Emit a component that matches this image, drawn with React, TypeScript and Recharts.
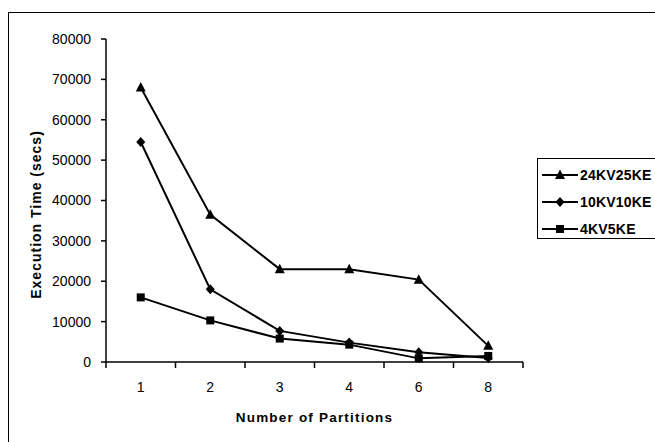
import React from "react";
import { LineChart, Line, XAxis, YAxis, Legend } from "recharts";

const partitions = ["1", "2", "3", "4", "6", "8"];
const kv24ke25 = [68000, 36500, 23000, 23000, 20400, 4000];
const kv10ke10 = [54500, 18000, 7700, 4800, 2400, 1000];
const kv4ke5 = [16000, 10300, 5800, 4300, 900, 1500];
const yTicks = [0, 10000, 20000, 30000, 40000, 50000, 60000, 70000, 80000];

const seriesNames = ["24KV25KE", "10KV10KE", "4KV5KE"];
const markers = ["triangle", "diamond", "square"];

const data = partitions.map((p, i) => ({
  partitions: p,
  "24KV25KE": kv24ke25[i],
  "10KV10KE": kv10ke10[i],
  "4KV5KE": kv4ke5[i],
}));

const FONT = "'Liberation Sans', Arial, sans-serif";

function Marker({ kind, cx, cy }: { kind: string; cx: number; cy: number }) {
  if (kind === "triangle") {
    return <path d={`M${cx},${cy - 5.5} L${cx + 5},${cy + 4} L${cx - 5},${cy + 4} Z`} fill="#000" />;
  }
  if (kind === "diamond") {
    return <path d={`M${cx},${cy - 5} L${cx + 4.5},${cy} L${cx},${cy + 5} L${cx - 4.5},${cy} Z`} fill="#000" />;
  }
  return <rect x={cx - 4} y={cy - 4} width={8} height={8} fill="#000" />;
}

const makeDot = (kind: string) => (props: any) => {
  const { cx, cy, index } = props;
  if (cx == null || cy == null) return <g key={`d-${kind}-${index}`} />;
  return (
    <g key={`d-${kind}-${index}`}>
      <Marker kind={kind} cx={cx} cy={cy} />
    </g>
  );
};

// ticks sit between the categories, like the old spreadsheet style
const XTick = (props: any) => {
  const { x, y, payload, index, visibleTicksCount } = props;
  const half = payload.offset || 0;
  const axisY = y - 6;
  const left = payload.coordinate - half;
  const right = payload.coordinate + half;
  return (
    <g>
      <line x1={left} y1={axisY} x2={left} y2={axisY + 6} stroke="#000" strokeWidth={1.5} />
      {index === visibleTicksCount - 1 && (
        <line x1={right} y1={axisY} x2={right} y2={axisY + 6} stroke="#000" strokeWidth={1.5} />
      )}
      <text x={x} y={axisY + 30} textAnchor="middle" fontFamily={FONT} fontSize={14} fill="#000">
        {payload.value}
      </text>
    </g>
  );
};

const LegendBox = () => (
  <div
    style={{
      width: 125,
      height: 81,
      border: "1px solid #000",
      background: "#fff",
      fontFamily: FONT,
      fontSize: 14,
      fontWeight: "bold",
      letterSpacing: 0.2,
      color: "#000",
      boxSizing: "border-box",
    }}
  >
    {seriesNames.map((name, i) => (
      <div key={name} style={{ display: "flex", alignItems: "center", height: 27, marginTop: i === 0 ? 2 : 0 }}>
        <svg width={38} height={12} style={{ marginLeft: 4 }}>
          <line x1={0} y1={6} x2={36} y2={6} stroke="#000" strokeWidth={2} />
          <Marker kind={markers[i]} cx={18} cy={6} />
        </svg>
        <span>{name}</span>
      </div>
    ))}
  </div>
);

export default function App() {
  return (
    <div
      style={{
        position: "fixed",
        left: 0,
        top: 0,
        width: 655,
        height: 442,
        overflow: "hidden",
        background: "#fff",
      }}
    >
      <div
        style={{
          position: "absolute",
          left: 8,
          top: 12,
          width: 700,
          height: 500,
          border: "1px solid #000",
        }}
      />
      <LineChart
        width={655}
        height={442}
        data={data}
        margin={{ top: 39, right: 132, bottom: 30, left: 0 }}
      >
        <XAxis
          dataKey="partitions"
          scale="band"
          height={50}
          stroke="#000"
          strokeWidth={1.5}
          tickLine={false}
          tickSize={6}
          tickMargin={0}
          interval={0}
          tick={<XTick />}
          label={{
            content: (p: any) => {
              const vb = p.viewBox;
              return (
                <text
                  x={vb.x + vb.width / 2}
                  y={vb.y + 60}
                  textAnchor="middle"
                  fontFamily={FONT}
                  fontSize={13.5}
                  fontWeight="bold"
                  letterSpacing={1.2}
                  fill="#000"
                >
                  Number of Partitions
                </text>
              );
            },
          }}
        />
        <XAxis xAxisId="top" dataKey="partitions" scale="band" orientation="top" height={0} tick={false} tickLine={false} stroke="#000" strokeWidth={1.5} />
        <YAxis
          domain={[0, 80000]}
          ticks={yTicks}
          interval={0}
          width={106}
          stroke="#000"
          strokeWidth={1.5}
          tickSize={5}
          tickMargin={10}
          tick={{ fill: "#000", fontFamily: FONT, fontSize: 14 }}
          label={{
            content: (p: any) => {
              const vb = p.viewBox;
              const cy = vb.y + vb.height / 2 + 14;
              return (
                <text
                  x={36}
                  y={cy}
                  dy="0.35em"
                  transform={`rotate(-90, 36, ${cy})`}
                  textAnchor="middle"
                  fontFamily={FONT}
                  fontSize={14}
                  fontWeight="bold"
                  letterSpacing={1}
                  fill="#000"
                >
                  Execution Time (secs)
                </text>
              );
            },
          }}
        />
        <YAxis yAxisId="right" orientation="right" domain={[0, 80000]} width={0} tick={false} tickLine={false} stroke="#000" strokeWidth={1.5} />
        <Legend
          layout="horizontal"
          align="center"
          verticalAlign="middle"
          content={<LegendBox />}
          wrapperStyle={{ left: 537, top: 158, width: 125 }}
        />
        <Line
          dataKey="24KV25KE"
          stroke="#000"
          strokeWidth={2}
          dot={makeDot("triangle")}
          activeDot={false}
          isAnimationActive={false}
        />
        <Line
          dataKey="10KV10KE"
          stroke="#000"
          strokeWidth={2}
          dot={makeDot("diamond")}
          activeDot={false}
          isAnimationActive={false}
        />
        <Line
          dataKey="4KV5KE"
          stroke="#000"
          strokeWidth={2}
          dot={makeDot("square")}
          activeDot={false}
          isAnimationActive={false}
        />
      </LineChart>
    </div>
  );
}
